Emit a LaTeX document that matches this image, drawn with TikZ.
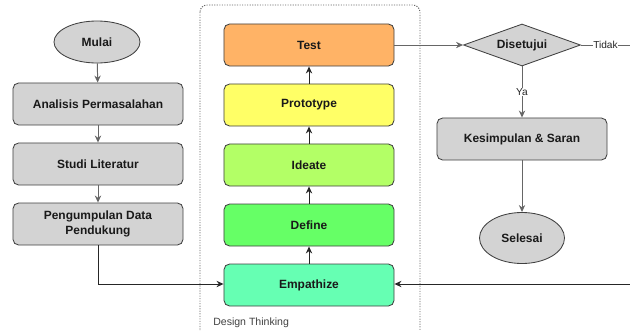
\documentclass[tikz,border=0pt]{standalone}
\usepackage{fontspec}
\setmainfont{Liberation Sans}
\usetikzlibrary{shapes.geometric,arrows.meta}

\definecolor{boxgray}{HTML}{D3D3D3}
\definecolor{linegray}{HTML}{666666}
\definecolor{testfill}{HTML}{FFB366}
\definecolor{protofill}{HTML}{FFFF66}
\definecolor{ideatefill}{HTML}{B3FF66}
\definecolor{definefill}{HTML}{66FF66}
\definecolor{empathfill}{HTML}{66FFB3}

\tikzset{
  boxtext/.style={font=\fontsize{8.5}{11.2}\selectfont\bfseries, text=black!90},
  flowbox/.style={boxtext, rectangle, rounded corners=4pt, draw=black!75, line width=0.6pt,
    minimum width=4.25cm, minimum height=1.05cm, align=center, inner sep=1pt},
  termnode/.style={boxtext, ellipse, draw=black!75, fill=boxgray, line width=0.6pt, inner sep=0pt},
  decision/.style={boxtext, diamond, aspect=2.8, draw=black!75, fill=boxgray, line width=0.6pt,
    inner sep=0pt, minimum width=2.925cm, minimum height=1.05cm},
  smalllabel/.style={font=\fontsize{7.2}{8}\selectfont, fill=white, inner sep=0.5pt, text=black!85}
}

\begin{document}
\begin{tikzpicture}[x=0.025cm,y=-0.025cm, >={Stealth[length=5pt,width=4.5pt]}]
        \useasboundingbox (0,0) rectangle (630,330);

        % design thinking group
        \draw[linegray, line width=0.7pt, dash pattern=on 0.8pt off 1pt, rounded corners=5pt]
          (200,5) rectangle (420,345);
        \node[anchor=west, font=\fontsize{7.5}{9}\selectfont, text=black!75, inner sep=0pt] (dtlabel) at (213,323) {Design Thinking};

        \node[termnode, minimum width=2.15cm, minimum height=1.05cm] (mulai) at (97,42) {Mulai};
        \node[termnode, minimum width=2.125cm, minimum height=1.275cm] (selesai) at (522,238) {Selesai};
        \node[decision] (setuju) at (522,45) {Disetujui};

        \begin{scope}[every node/.style={flowbox, fill=boxgray}]
          \node (analisis) at (98,104) {Analisis Permasalahan};
          \node (studi)    at (98,164) {Studi Literatur};
          \node (data)     at (98,224) {Pengumpulan Data\\Pendukung};
          \node (simpul)   at (522,139) {Kesimpulan \& Saran};
        \end{scope}

        \begin{scope}[every node/.style={flowbox}]
          \node[fill=testfill]   (test)   at (309,45)  {Test};
          \node[fill=protofill]  (proto)  at (309,105) {Prototype};
          \node[fill=ideatefill] (ideate) at (309,165) {Ideate};
          \node[fill=definefill] (define) at (309,225) {Define};
          \node[fill=empathfill] (empath) at (309,285) {Empathize};
        \end{scope}

        \coordinate (tidakend) at (630,45);
        \coordinate (backin)   at (630,284);

        \begin{scope}[every edge/.style={draw, linegray, line width=0.7pt, ->}]
          \path (mulai)    edge (analisis);
          \path (analisis) edge (studi);
          \path (studi)    edge (data);
          \path (simpul)   edge (selesai);
          \path (test)     edge (setuju);
          \path (setuju)   edge node[smalllabel] {Ya} (simpul);
        \end{scope}

        \begin{scope}[every edge/.style={draw, black!85, line width=0.7pt, ->}]
          \path (empath) edge (define);
          \path (define) edge (ideate);
          \path (ideate) edge (proto);
          \path (proto)  edge (test);
          \path (backin) edge (empath.east |- backin);
        \end{scope}

        \draw[linegray, line width=0.7pt] (setuju.east) -- node[smalllabel] {Tidak} (tidakend);
        \draw[black!85, line width=0.7pt, ->] (data.south) |- (empath.west |- backin);

      \end{tikzpicture}
\end{document}
